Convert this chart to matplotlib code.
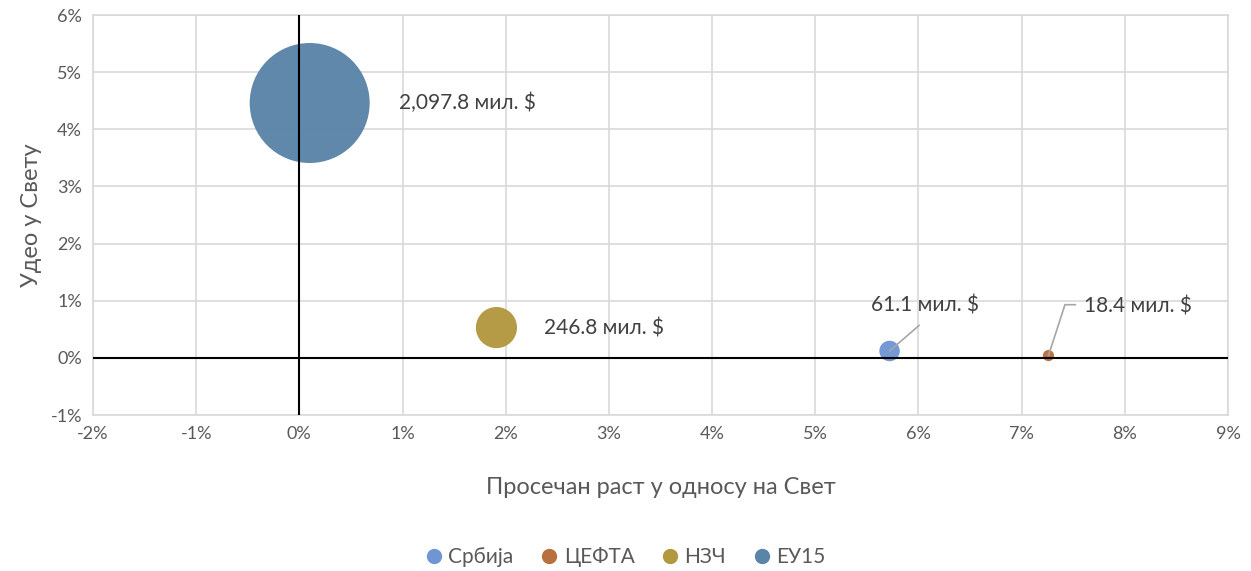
import numpy as np
import matplotlib.pyplot as plt
from matplotlib.ticker import FuncFormatter

plt.rcParams['font.family'] = ['Lato', 'DejaVu Sans']

regions = ['Србија', 'ЦЕФТА', 'НЗЧ', 'ЕУ15']
growth = [5.72, 7.26, 1.91, 0.10]      # % average growth vs world
share = [0.12, 0.04, 0.53, 4.46]       # % share of world
values = [61.1, 18.4, 246.8, 2097.8]   # mil. $
colors = ['#6f96d3', '#b9703f', '#b3983f', '#5a84a8']

fig = plt.figure(figsize=(12.51, 5.71), dpi=100)
ax = fig.add_axes([93 / 1251, 156 / 571, 1135 / 1251, 400 / 571])

max_d = 86.4  # points, diameter of largest bubble
for name, x, y, v, c in zip(regions, growth, share, values, colors):
    s = (v / max(values)) * max_d ** 2
    ax.scatter(x, y, s=s, color=c, alpha=0.97, edgecolors='none', zorder=3, label=name)

ax.axhline(0, color='black', lw=1.5, zorder=4)
ax.axvline(0, color='black', lw=1.5, zorder=4)

ax.set_xlim(-2, 9)
ax.set_ylim(-1, 6)
ax.set_xticks(np.arange(-2, 10, 1))
ax.set_yticks(np.arange(-1, 7, 1))
pct = FuncFormatter(lambda v, p: '%d%%' % round(v))
ax.xaxis.set_major_formatter(pct)
ax.yaxis.set_major_formatter(pct)
ax.grid(True, color='#d9d9d9', lw=1.2, zorder=0)
ax.set_axisbelow(True)
for sp in ax.spines.values():
    sp.set_color('#d9d9d9')
    sp.set_linewidth(1.2)
ax.tick_params(length=0, labelsize=13, labelcolor='#595959', pad=8)

ax.set_xlabel('Просечан раст у односу на Свет', fontsize=17, color='#595959', labelpad=25)
ax.set_ylabel('Удео у Свету', fontsize=17, color='#595959', labelpad=6)

lab_kw = dict(fontsize=15, color='#404040', va='center', zorder=5)
ax.text(0.97, share[3], '2,097.8 мил. $', ha='left', **lab_kw)
ax.text(2.37, share[2] - 0.02, '246.8 мил. $', ha='left', **lab_kw)
ax.annotate('61.1 мил. $', xy=(growth[0], share[0]), xytext=(6.06, 0.92),
            ha='center', va='center', fontsize=15, color='#404040',
            arrowprops=dict(arrowstyle='-', color='#a6a6a6', lw=1.2,
                            shrinkA=0, shrinkB=0, relpos=(0.45, -0.5)), zorder=5)
ax.plot([growth[1], 7.42, 7.52], [share[1], 0.93, 0.93], color='#a6a6a6', lw=1.2, zorder=5)
ax.text(7.6, 0.9, '18.4 мил. $', ha='left', **lab_kw)

fig.legend(loc='lower center', bbox_to_anchor=(0.5, -0.026), ncol=4, frameon=False,
           fontsize=15, labelcolor='#595959', handlelength=0.8, handletextpad=0.3,
           columnspacing=1.3,
           handles=[plt.Line2D([], [], marker='o', ls='', color=c, markersize=10) for c in colors],
           labels=regions)

fig.savefig('out.png', dpi=100)
